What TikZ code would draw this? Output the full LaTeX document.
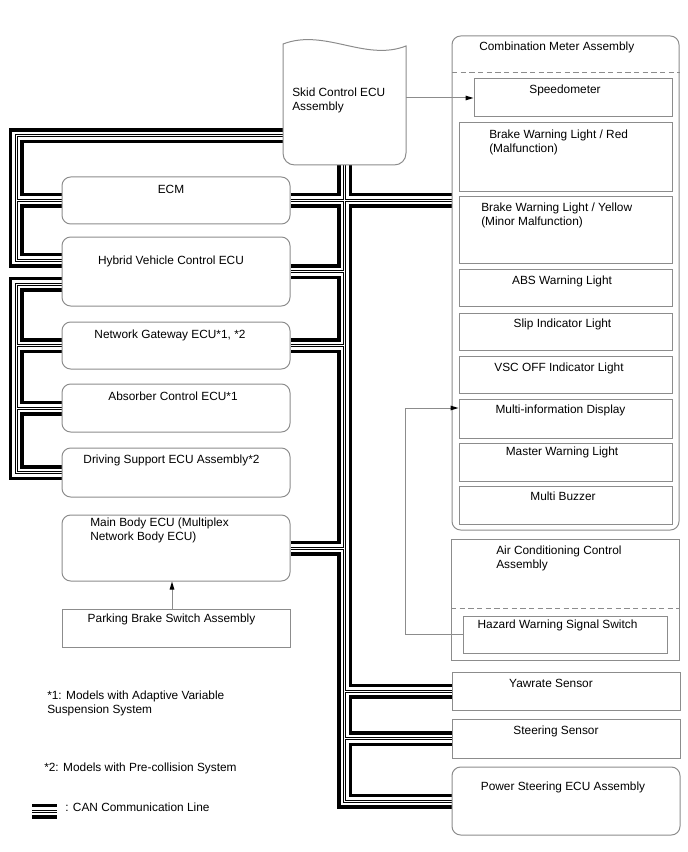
\documentclass[tikz,border=0pt]{standalone}
\usepackage{fontspec}
\setmainfont{Liberation Sans}
\usetikzlibrary{arrows.meta,positioning,calc,fit,backgrounds}
\definecolor{boxgray}{gray}{0.55}
\tikzset{
  ecubox/.style={draw=boxgray,line width=0.75pt,rounded corners=6.5pt,inner sep=0pt},
  partbox/.style={draw=boxgray,line width=0.75pt,inner sep=0pt},
  lbl/.style={inner sep=0pt,anchor=north,align=center},
  lblleft/.style={inner sep=0pt,anchor=north west,align=left},
  sigarrow/.style={draw=boxgray,line width=0.75pt,-{Triangle[length=6pt,width=3.4pt,color=black]}},
  divider/.style={draw=boxgray,line width=0.75pt,dash pattern=on 4pt off 2.5pt},
}
% CAN bus routes, drawn several times on top of each other
\newcommand{\canroute}{
  (l1a -| skid.west) -- (l1a) -- (l1b) -- (l1b -| hvecu.west)
  (l1a |- ecm.west) -- (ecm.west)
  (hvecu.west |- l2a) -- (l2a) |- (drvsup.west)
  (l2a |- gw.west) -- (gw.west)
  (l2a |- absorber.west) -- (absorber.west)
  (skid.south) |- (eps.west)
  (ecm.east) -- (ecm.east -| cmeter.west)
  (hvecu.east) -- (hvecu.east -| skid.south)
  (gw.east) -- (gw.east -| skid.south)
  (mainbody.east) -- (mainbody.east -| skid.south)
  (yaw.west -| skid.south) -- (yaw.west)
  (steer.west -| skid.south) -- (steer.west)
  (canlegA) -- (canlegB)
}

\begin{document}
\begin{tikzpicture}[x=0.75pt,y=-0.75pt,font=\fontsize{8.9pt}{10.5pt}\selectfont]
\useasboundingbox (0,0) rectangle (688,852);

% left column
\node[ecubox,fit={(62,177) (290,224)}] (ecm) {};
\node[ecubox,fit={(62,237) (290,306)}] (hvecu) {};
\node[ecubox,fit={(62,322) (290,369)}] (gw) {};
\node[ecubox,fit={(62,384) (290,432)}] (absorber) {};
\node[ecubox,fit={(62,448) (290,497)}] (drvsup) {};
\node[ecubox,fit={(62,515) (290,581)}] (mainbody) {};
\node[partbox,fit={(62,609) (290,647)}] (parkbrake) {};

% skid control ecu
\node[fit={(283,44) (406,165)},inner sep=0pt] (skid) {};
\draw[draw=boxgray,line width=0.75pt] (283,44) .. controls (325,28) and (365,62) .. (406,46)
  -- (406,153) .. controls (406,160) and (401,165) .. (394,165)
  -- (295,165) .. controls (288,165) and (283,160) .. (283,153) -- cycle;

% combination meter
\node[ecubox,fit={(452,36) (679,530)}] (cmeter) {};
\coordinate (cmdiv) at (452,73);
\draw[divider] (cmdiv) -- (cmdiv -| cmeter.east);
\node[partbox,fit={(474,79) (672,117)}] (speedo) {};
\node[partbox,fit={(459,123) (672,192)}] (bwred) {};
\node[partbox,fit={(459,197) (672,263)}] (bwyel) {};
\node[partbox,fit={(459,269) (672,306)}] (absw) {};
\node[partbox,fit={(459,313) (672,350)}] (slip) {};
\node[partbox,fit={(459,356) (672,393)}] (vscoff) {};
\node[partbox,fit={(459,399) (672,438)}] (mid) {};
\node[partbox,fit={(459,443) (672,481)}] (master) {};
\node[partbox,fit={(459,486) (672,524)}] (buzzer) {};

% air conditioning
\node[partbox,fit={(451,539) (679,660)}] (aircon) {};
\coordinate (acdiv) at (451,608);
\draw[divider] (acdiv) -- (acdiv -| aircon.east);
\node[partbox,fit={(463,616) (667,653)}] (hazard) {};

% sensors
\node[partbox,fit={(452,672) (680,710)}] (yaw) {};
\node[partbox,fit={(452,719) (680,758)}] (steer) {};
\node[ecubox,fit={(452,767) (680,835)}] (eps) {};

% bus corners
\coordinate (l1a) at (16,136);
\coordinate (l1b) at (16,260);
\coordinate (l2a) at (16,284);
\coordinate (canlegA) at (32,811);
\coordinate (canlegB) at (57,811);

\begin{scope}[on background layer]
  \foreach \lw/\lc in {11.25pt/black,6pt/white,2.25pt/black,0.75pt/white}
    \draw[line width=\lw,color=\lc] \canroute;
\end{scope}

% signal lines
\draw[sigarrow] (speedo.west -| skid.east) -- (speedo.west);
\coordinate (hzbend) at (405,408);
\draw[sigarrow] (hazard.west) -| (hzbend) -- (hzbend -| mid.west);
\draw[sigarrow] ([xshift=-3pt]parkbrake.north) -- ([xshift=-3pt]mainbody.south);

% texts
\node[lbl] (ecmtxt) at (171,184.5) {ECM};
\node[lbl] (hvtxt) at (171,256) {Hybrid Vehicle Control ECU};
\node[lbl] (gwtxt) at (170,330) {Network Gateway ECU*1, *2};
\node[lbl] (absorbertxt) at (173,391.5) {Absorber Control ECU*1};
\node[lbl] (dstxt) at (171.5,455) {Driving Support ECU Assembly*2};
\node[lblleft] (mbtxt) at (90,517.5) {Main Body ECU (Multiplex\\Network Body ECU)};
\node[lbl] (pbtxt) at (171.5,613.5) {Parking Brake Switch Assembly};
\node[lblleft] (skidtxt) at (292,88) {Skid Control ECU\\Assembly};
\node[lblleft] (cmtxt) at (479,41.5) {Combination Meter Assembly};
\node[lbl] (spdtxt) at (565,85) {Speedometer};
\node[lblleft] (redtxt) at (489,129.5) {Brake Warning Light / Red\\(Malfunction)};
\node[lblleft] (yeltxt) at (481,203) {Brake Warning Light / Yellow\\(Minor Malfunction)};
\node[lbl] (abswtxt) at (562,276) {ABS Warning Light};
\node[lbl] (sliptxt) at (562.5,319) {Slip Indicator Light};
\node[lbl] (vsctxt) at (559,363) {VSC OFF Indicator Light};
\node[lbl] (midtxt) at (560.5,405) {Multi-information Display};
\node[lbl] (mastertxt) at (562,446.5) {Master Warning Light};
\node[lbl] (buzzertxt) at (563,491.5) {Multi Buzzer};
\node[lblleft] (actxt) at (496,545.5) {Air Conditioning Control\\Assembly};
\node[lbl] (hazardtxt) at (557.5,620) {Hazard Warning Signal Switch};
\node[lbl] (yawtxt) at (551,679) {Yawrate Sensor};
\node[lbl] (steertxt) at (556,726) {Steering Sensor};
\node[lbl] (epstxt) at (563,782) {Power Steering ECU Assembly};

% notes
\node[lblleft] (note1) at (47,690.5) {*1: Models with Adaptive Variable\\Suspension System};
\node[lblleft] (note2) at (44,762.5) {*2: Models with Pre-collision System};
\node[lblleft] (cannote) at (65,803) {: CAN Communication Line};
\end{tikzpicture}
\end{document}
